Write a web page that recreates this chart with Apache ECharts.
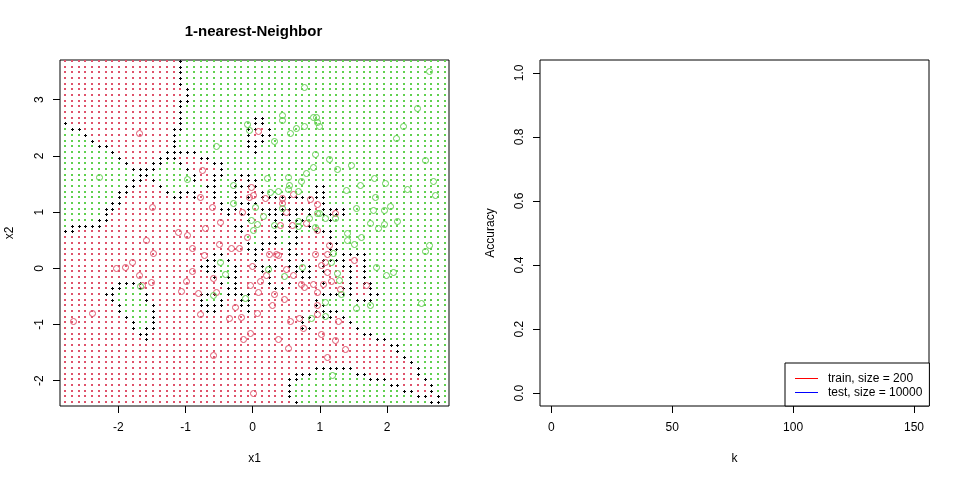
<!DOCTYPE html>
<html><head><meta charset="utf-8">
<style>html,body{margin:0;padding:0;background:#fff}#c{width:960px;height:480px}</style>
<script src="https://cdn.jsdelivr.net/npm/echarts@6/dist/echarts.min.js"></script>
</head><body><div id="c"></div>
<script>
// Class for each row of the 57 x 61 prediction grid (top row first):
// R = red class, G = green class, K = boundary cell, number = run length.
const gridRows = [
"R17 K1 G39","R17 K1 G39","R17 K1 G39","R17 K1 G39","R17 K1 G39",
"R18 K1 G38","R18 K1 G38","R17 K2 G38","R17 K1 G39","R17 K1 G39",
"R17 K1 G10 K2 G27","K1 R16 K1 G10 K2 G27","G1 K2 R13 K2 G9 K2 R1 K1 G26",
"G3 K1 R12 K1 G10 K1 R1 K2 G26","G4 K1 R11 K1 G10 K3 G27","G5 K2 R9 K1 G10 K2 G28",
"G7 K1 R7 K5 G8 K1 G28","G8 K1 R5 K3 R3 K2 G35","G9 K1 R3 K2 G2 K1 R4 K2 G33",
"G10 K4 G4 K1 R4 K1 G33","G11 K2 G6 K1 R2 K2 G2 K2 G29",
"G10 K2 R1 K1 G5 K1 R2 K1 G2 K1 R1 K2 G28","G9 K2 R3 K1 G6 K2 G2 K4 G8 K2 G18",
"G8 K2 R5 K1 G1 K3 R2 K1 G2 K1 R3 K1 G7 K2 G18",
"G8 K1 R7 K2 R1 K1 R2 K1 G2 K1 R1 K1 R1 K10 G18",
"G7 K2 R14 K1 G2 K3 R9 K1 G18","G6 K2 R15 K3 R1 K1 R1 K8 R1 K4 G15",
"G6 K1 R17 K1 R1 K2 R2 K5 R1 K1 R1 K4 G15","G5 K2 R20 K1 R3 K1 G1 K3 G3 K1 G17",
"G1 K5 R19 K2 R4 K1 G1 K2 G1 K1 G20","K2 R24 K1 R4 K1 G1 K2 G2 K3 G17",
"R27 G2 R2 K1 G2 K1 R4 K1 G17","R27 K1 G1 K3 G1 K2 R4 K2 G16","R27 K3 R3 K1 R5 K2 G16",
"R22 K2 R4 K1 R4 K2 R4 K1 G1 K4 G12","R21 K2 G1 K1 R3 K1 R4 K1 R1 K1 R2 K4 R2 K1 G12",
"R20 K3 G2 K1 R2 K4 R1 K2 R1 K1 R1 K1 R2 K2 R1 K1 G12",
"R21 K2 G2 K1 R3 K2 R3 K3 R1 K1 R3 K1 R1 K1 G12",
"R22 K1 G1 K2 R4 K1 R4 K2 R5 K1 R1 K1 G12",
"R8 K4 R11 K1 G1 K1 R4 K1 R2 K1 R4 K1 R3 K1 R1 K2 G11",
"R7 K2 G2 K1 R12 K2 R5 K2 R8 K2 R2 K1 G11","R6 K2 G4 K1 R7 K3 G1 K4 R10 K5 R2 K2 G10",
"R7 K1 G4 K1 R7 K1 G2 K1 R2 K2 R9 K1 G5 K3 G11","R8 K1 G4 K1 R6 K4 R2 K2 R9 K2 G18",
"R8 K1 G4 K1 R7 K2 R4 K1 R9 K4 G16","R9 K1 G3 K1 R21 K2 R1 K2 R1 K1 G15",
"R10 K1 G2 K1 R21 K1 R6 K1 G14","R10 K1 G1 K2 R21 K2 R6 K1 G13","R11 K2 R31 K2 G11",
"R12 K1 R33 K2 G9","R48 K2 G7","R49 K1 G7","R50 K1 G6","R51 K1 G5",
"R37 K6 R9 K1 G4","R34 K3 G6 K2 R7 K1 G4","R33 K2 G10 K3 R5 K1 G3",
"R33 K1 G14 K2 R4 K1 G2","R33 K1 G16 K2 R2 K1 G2","R33 K1 G18 K2 R1 K1 G1","R34 K1 G19 K2 G1"
];
const gridXStart = -2.793, gridXStep = 0.10096;
const gridYStart = 3.689, gridYStep = -0.10113;

const redX1 = [-1.69,.08,-.75,-.02,.01,-.05,-.79,-1.50,-.60,-.16,-.48,-.71,.60,.18,.43,.44,.86,.95,.49,1.23,.80,.59,.41,.95,-1.11,-.97,-1.58,-.90,-.50,-.33,-.20,-.08,-1.48,-.72,-1.80,-1.90,-2.03,-.01,-.90,-1.69,-.59,-.99,-1.52,-1.64,-.04,.11,-1.06,-.81,-.54,.08,-.27,-2.39,-.79,.07,-.35,-.17,-2.67,-.04,-.14,-.59,.01,1.13,.25,.34,.38,.92,1.11,1.07,1.51,1.01,.49,1.11,.60,.20,1.17,.72,.90,1.05,.77,1.68,1.30,.95,.32,.47,.96,.29,.96,.56,.69,1.27,.75,1.01,.37,1.23,.53,1.38,1.11];
const redX2 = [2.40,2.44,1.74,1.44,1.30,1.27,1.27,1.09,1.09,1.00,.82,.71,1.32,1.25,1.25,1.16,1.23,1.14,1.00,.98,.80,.77,.77,.69,.64,.59,.50,.36,.43,.36,.37,.55,.27,.23,.11,.02,0,.04,-.05,-.12,-.18,-.23,-.25,-.30,-.30,-.23,-.41,-.44,-.43,-.43,-.69,-.80,-.82,-.80,-.89,-.87,-.94,-1.16,-1.25,-1.55,-2.22,.41,.25,.25,.23,.25,.25,.12,.14,.05,-.02,-.06,-.12,-.12,-.23,-.28,-.28,-.28,-.34,-.30,-.37,-.43,-.46,-.55,-.66,-.66,-.82,-.93,-.89,-.93,-1.07,-1.17,-1.26,-1.28,-1.42,-1.44,-1.57];
const greenX1 = [-.09,-.05,-.54,-2.28,-.97,-.29,-.30,.04,-.02,.07,.01,2.63,.77,2.45,.44,.43,.89,.94,.95,.98,2.24,.77,.65,.56,2.13,.32,.92,1.13,2.57,.90,1.47,1.26,.80,.21,.53,1.81,.72,2.69,.54,1.59,1.97,1.39,2.30,.53,.26,.38,.68,2.72,1.82,.43,1.54,2.05,1.96,1.79,.95,.98,.16,1.07,.84,1.23,.68,2.15,1.75,1.96,.31,.68,.92,1.87,-.48,-.41,-1.67,-.59,-.12,1.40,1.61,1.41,1.51,2.63,2.57,1.20,1.17,.74,1.84,.23,2.09,1.99,1.26,.46,1.29,1.32,2.51,1.75,1.07,1.53,.87,1.08,1.18];
const greenX2 = [2.56,2.46,2.17,1.62,1.58,1.48,1.17,1.09,.86,.79,.69,3.51,3.22,2.86,2.72,2.63,2.69,2.69,2.60,2.54,2.54,2.53,2.49,2.40,2.31,2.26,2.03,1.94,1.92,1.81,1.83,1.76,1.69,1.60,1.62,1.60,1.55,1.55,1.49,1.49,1.51,1.39,1.41,1.41,1.35,1.37,1.37,1.30,1.26,1.07,1.07,1.10,1.03,1.03,.98,.99,.93,.90,.89,.89,.85,.84,.80,.78,.77,.75,.73,.71,.11,-.11,-.32,-.48,-.52,.63,.55,.50,.44,.41,.30,.28,.11,.02,.02,-.02,-.07,-.12,-.09,-.14,-.20,-.46,-.62,-.66,-.60,-.71,-.89,-.84,-1.90];

const leftXTicks = [-2,-1,0,1,2];
const leftYTicks = [-2,-1,0,1,2,3];
const rightXTicks = [0,50,100,150];
const rightYTicks = [0,0.2,0.4,0.6,0.8,1.0];
const trainAccuracy = [];
const testAccuracy = [];

const RED = '#DF536B', GREEN = '#61D04F';
const cells = {R:[], G:[], K:[]};
gridRows.forEach((row, r) => {
  let c = 0;
  row.split(' ').forEach(run => {
    const n = +run.slice(1);
    for (let i = 0; i < n; i++, c++) {
      cells[run[0]].push([gridXStart + gridXStep * c, gridYStart + gridYStep * r]);
    }
  });
});
const zip = (a, b) => a.map((v, i) => [v, b[i]]);
const FONT = '"Liberation Sans", Arial, sans-serif';
const label = {color:'#000', fontFamily:FONT, fontSize:12};

function axis(kind, o) {
  return {
    type:'value', gridIndex:o.g, min:o.min, max:o.max,
    name:o.name, nameLocation:'middle', nameGap:o.gap,
    nameTextStyle:Object.assign({}, label),
    splitLine:{show:false}, axisLine:{show:false, onZero:false},
    axisTick:{show:true, length:7, inside:false, lineStyle:{color:'#000', width:1}, customValues:o.ticks},
    axisLabel:Object.assign({show:true, margin:o.margin, rotate:kind==='y'?90:0, customValues:o.ticks,
      formatter:o.fmt||(v=>String(v)), showMinLabel:true, showMaxLabel:true}, label)
  };
}
// All marks are placed through the axis scale and snapped to whole pixels so they stay crisp.
function customSeries(name, data, z, draw) {
  return {name, type:'custom', coordinateSystem:'cartesian2d', xAxisIndex:0, yAxisIndex:0, data, silent:true, z,
    encode:{x:0, y:1},
    renderItem:(p, api) => {
      const q = api.coord([api.value(0), api.value(1)]);
      return draw(Math.round(q[0]), Math.round(q[1]));
    }};
}
const dots = (name, data, color) => customSeries(name, data, 2, (x, y) =>
  ({type:'rect', shape:{x:x-1, y:y-1, width:2, height:2}, style:{fill:color}, silent:true}));
const plus = (name, data) => customSeries(name, data, 3, (x, y) =>
  ({type:'group', silent:true, children:[
    {type:'rect', shape:{x:x-1, y:y, width:3, height:1}, style:{fill:'#000'}},
    {type:'rect', shape:{x:x, y:y-1, width:1, height:3}, style:{fill:'#000'}}
  ]}));
const rings = (name, data, color) => customSeries(name, data, 4, (x, y) =>
  ({type:'circle', shape:{cx:x+0.5, cy:y+0.5, r:3}, style:{fill:'none', stroke:color, lineWidth:1}, silent:true}));

const chart = echarts.init(document.getElementById('c'), null, {renderer:'canvas'});
chart.setOption({
  animation:false, backgroundColor:'#fff',
  title:{text:'1-nearest-Neighbor', left:248.5, top:19, textAlign:'center',
    textStyle:{color:'#000', fontFamily:FONT, fontWeight:'bold', fontSize:15}},
  grid:[
    {left:60, top:60, width:389, height:346, show:true, borderColor:'#000', borderWidth:1, backgroundColor:'transparent'},
    {left:540, top:60, width:389, height:346, show:true, borderColor:'#000', borderWidth:1, backgroundColor:'transparent'}
  ],
  xAxis:[
    axis('x',{g:0,min:-2.867,max:2.921,name:'x1',gap:47,margin:16,ticks:leftXTicks}),
    axis('x',{g:1,min:-4.7,max:156.2,name:'k',gap:47,margin:16,ticks:rightXTicks})
  ],
  yAxis:[
    axis('y',{g:0,min:-2.45,max:3.706,name:'x2',gap:44,margin:14,ticks:leftYTicks}),
    axis('y',{g:1,min:-0.04,max:1.04,name:'Accuracy',gap:43,margin:14,ticks:rightYTicks,fmt:v=>v.toFixed(1)})
  ],
  legend:{
    left:785, top:363, orient:'vertical', padding:[9.5,7,7.5,10], itemGap:2, itemWidth:23, itemHeight:1,
    icon:'rect', selectedMode:false, borderColor:'#000', borderWidth:1, backgroundColor:'#fff',
    textStyle:Object.assign({padding:[0,0,0,5]}, label),
    data:['train, size = 200','test, size = 10000']
  },
  series:[
    dots('red region', cells.R, RED),
    dots('green region', cells.G, GREEN),
    plus('boundary', cells.K),
    rings('red training points', zip(redX1, redX2), RED),
    rings('green training points', zip(greenX1, greenX2), GREEN),
    {name:'train, size = 200', type:'line', xAxisIndex:1, yAxisIndex:1, data:trainAccuracy,
      color:'#ff0000', itemStyle:{color:'#ff0000'}, lineStyle:{color:'#ff0000', width:1}, showSymbol:false},
    {name:'test, size = 10000', type:'line', xAxisIndex:1, yAxisIndex:1, data:testAccuracy,
      color:'#0000ff', itemStyle:{color:'#0000ff'}, lineStyle:{color:'#0000ff', width:1}, showSymbol:false}
  ]
});
</script></body></html>
